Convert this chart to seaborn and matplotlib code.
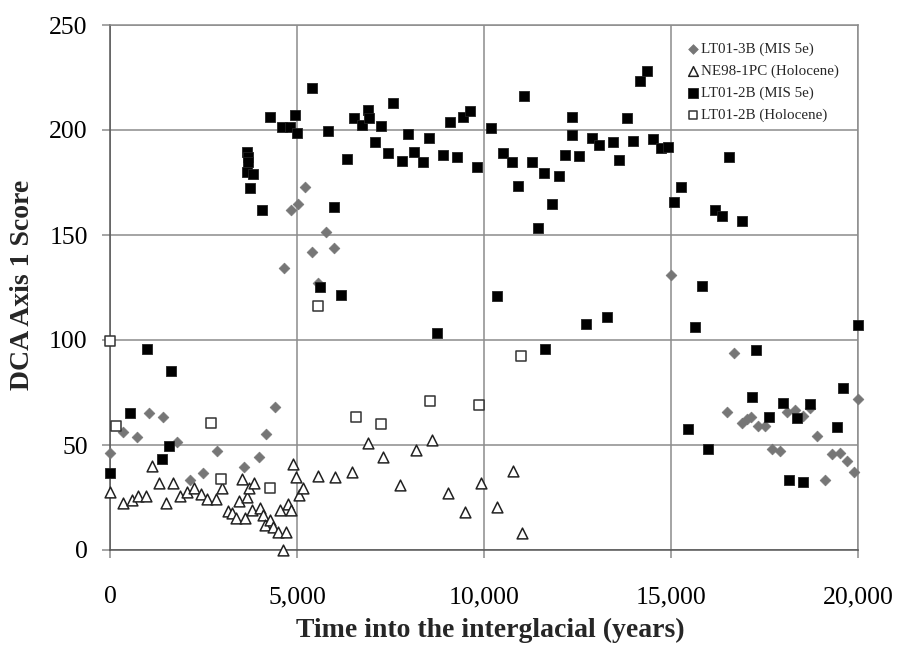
import matplotlib
matplotlib.use("Agg")
import matplotlib.pyplot as plt
import seaborn as sns
import pandas as pd
from matplotlib.ticker import StrMethodFormatter

# LT01-3B (MIS 5e) - gray diamonds
lt3b_x = [0, 339, 713, 1052, 1408, 1801, 2139, 2478, 2853, 3583, 3994, 4180, 4400,
          4653, 4831, 5036, 5214, 5393, 5550, 5767, 5998,
          14991, 16490, 16695, 16891, 17024, 17131, 17318, 17515, 17693, 17916, 18094,
          18317, 18539, 18718, 18914, 19119, 19315, 19520, 19716, 19903, 19990]
lt3b_y = [46.3, 56.3, 54, 65.4, 63.5, 51.6, 33.5, 36.5, 47, 39.3, 44.3, 55.4, 68,
          134.4, 161.9, 164.8, 173, 141.8, 127, 151.3, 144,
          131, 65.6, 93.7, 60.3, 62.4, 63.5, 59, 59, 48, 47.3, 65.6,
          66.7, 63.8, 67.5, 54.3, 33.3, 45.6, 46.3, 42.5, 37, 71.7]

# NE98-1PC (Holocene) - open triangles
ne98_x = [0, 356, 579, 757, 954, 1114, 1319, 1497, 1676, 1872, 2068, 2246, 2425, 2603,
          2826, 3004, 3164, 3253, 3369, 3458, 3521, 3610, 3655, 3717, 3789, 3851, 4011,
          4100, 4145, 4278, 4350, 4501, 4546, 4617, 4706, 4768, 4831, 4885, 4974, 5063,
          5170, 5571, 6017, 6463, 6891, 7309, 7755, 8182, 8601, 9047, 9493, 9912, 10340,
          10785, 11008]
ne98_y = [27.8, 22.2, 23.8, 25.9, 25.9, 40, 32, 22.2, 31.7, 25.7, 27.8, 29.7, 26.5, 24.1,
          24.3, 29.7, 18.6, 17.5, 15.1, 23.3, 33.7, 15.1, 25.4, 29.4, 19, 32, 19.8,
          16.7, 11.9, 14.3, 11.1, 8.4, 19, 0, 8.4, 21.9, 19, 40.8, 34.6, 26.2,
          29.7, 35.4, 34.9, 37.3, 50.8, 44.1, 31, 47.6, 52.4, 27.3, 18.3, 32, 20.3,
          37.6, 8.3]

# LT01-2B (MIS 5e) - black squares
lt2b_x = [0, 535, 981, 1382, 1590, 1622, 3655, 3681, 3699, 3655, 3815, 3744, 4073, 4278,
          4590, 4813, 4947, 4992, 5410, 5615, 5820, 5998, 6169, 6346, 6525, 6730, 6908,
          6935, 7086, 7238, 7442, 7576, 7799, 7977, 8138, 8361, 8539, 8735, 8913, 9092,
          9271, 9449, 9627, 9822, 10180, 10357, 10518, 10741, 10901, 11079, 11276, 11453,
          11614, 11632, 11810, 12006, 12167, 12346, 12363, 12550, 12728, 12898, 13085,
          13280, 13460, 13620, 13816, 13976, 14172, 14350, 14511, 14724, 14930, 15090,
          15269, 15444, 15643, 15820, 15979, 16177, 16374, 16552, 16908, 17158, 17274,
          17630, 17987, 18164, 18362, 18539, 18718, 19448, 19609, 19990]
lt2b_y = [36.5, 65.4, 95.7, 43.2, 49.5, 85.2, 189.7, 187.3, 184.9, 180.2, 179, 172.2, 161.9,
          206.3, 201.6, 201.3, 207.1, 198.7, 219.9, 125.4, 199.5, 163.5, 121.4, 186, 205.6,
          202.4, 209.5, 205.6, 194.4, 202, 188.9, 212.7, 185.4, 197.9, 189.4, 184.6, 196,
          103.2, 188, 204, 187.3, 206.3, 209.2, 182.5, 200.8, 121.1, 188.9, 185, 173.5,
          216.3, 185, 153.2, 179.4, 95.6, 164.6, 178.1, 188.1, 206.3, 197.6, 187.8, 107.5,
          196, 192.9, 111.1, 194.1, 185.7, 205.6, 194.8, 223.3, 228.1, 195.7, 191.3, 191.7,
          165.9, 173, 57.6, 106.3, 125.7, 48.1, 161.9, 159.2, 187.3, 156.7, 73, 95.2,
          63.5, 69.8, 33.3, 62.7, 32.5, 69.4, 58.4, 77, 107]

# LT01-2B (Holocene) - open squares
lt2bh_x = [0, 152, 2692, 2959, 4278, 5571, 6578, 7247, 8557, 9875, 10990]
lt2bh_y = [99.7, 59, 60.5, 34, 29.7, 116.2, 63.2, 60, 71, 69, 92.4]

labels = ["LT01-3B (MIS 5e)", "NE98-1PC (Holocene)", "LT01-2B (MIS 5e)", "LT01-2B (Holocene)"]
x_ticks = [0, 5000, 10000, 15000, 20000]
y_ticks = [0, 50, 100, 150, 200, 250]

sns.set_theme(style="white")
plt.rcParams['font.family'] = ['Liberation Serif', 'DejaVu Serif']

fig = plt.figure(figsize=(8.97, 6.47), dpi=100)
ax = fig.add_axes([110 / 897, 97 / 647, 748 / 897, 525 / 647])

gridc = "#8c8c8c"
ax.set_axisbelow(True)
ax.grid(True, color=gridc, linewidth=1.1)

df1 = pd.DataFrame({"x": lt3b_x, "y": lt3b_y})
df2 = pd.DataFrame({"x": ne98_x, "y": ne98_y})
df3 = pd.DataFrame({"x": lt2b_x, "y": lt2b_y})
df4 = pd.DataFrame({"x": lt2bh_x, "y": lt2bh_y})

sns.scatterplot(data=df1, x="x", y="y", ax=ax, marker="D", s=30, color="#767676",
                edgecolor="#767676", linewidth=0.5, label=labels[0], clip_on=False, zorder=3)
sns.scatterplot(data=df2, x="x", y="y", ax=ax, marker="^", s=60, color="white",
                edgecolor="#222222", linewidth=1.1, label=labels[1], clip_on=False, zorder=3)
sns.scatterplot(data=df3, x="x", y="y", ax=ax, marker="s", s=58, color="black",
                edgecolor="#222222", linewidth=0.6, label=labels[2], clip_on=False, zorder=4)
sns.scatterplot(data=df4, x="x", y="y", ax=ax, marker="s", s=50, color="white",
                edgecolor="#333333", linewidth=1.1, label=labels[3], clip_on=False, zorder=4)

ax.set_xlim(0, 20000)
ax.set_ylim(0, 250)
ax.set_xticks(x_ticks)
ax.set_yticks(y_ticks)
ax.xaxis.set_major_formatter(StrMethodFormatter("{x:,.0f}"))
ax.tick_params(axis="both", which="major", direction="out", length=6, width=1.1,
               color=gridc, labelsize=18.5, labelcolor="black")
ax.tick_params(axis="x", pad=20)
ax.tick_params(axis="y", pad=10)
ax.tick_params(left=True, bottom=True)
for sp in ax.spines.values():
    sp.set_color(gridc)
    sp.set_linewidth(1.1)
ax.spines["left"].set_color("#555555")
ax.spines["bottom"].set_color("#555555")

ax.set_xlabel("Time into the interglacial (years)", fontsize=20, fontweight="bold")
ax.set_ylabel("DCA Axis 1 Score", fontsize=20, fontweight="bold")
ax.xaxis.set_label_coords(0.509, -0.13)
ax.yaxis.set_label_coords(-0.1, 0.505)

leg = ax.legend(loc="upper left", bbox_to_anchor=(0.747, 0.998), frameon=False,
                fontsize=10.8, handletextpad=0.05, labelspacing=0.55, markerscale=0.9,
                handlelength=1.0, borderpad=0.6)

fig.savefig("out.png", dpi=100)
